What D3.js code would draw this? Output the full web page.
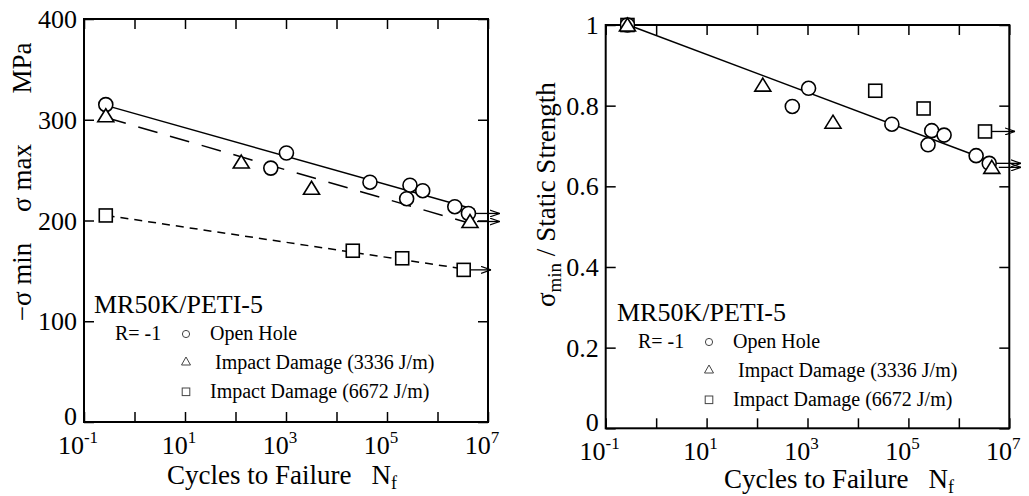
<!DOCTYPE html>
<html>
<head>
<meta charset="utf-8">
<script src="https://cdn.jsdelivr.net/npm/d3@7"></script>
<style>
  body { margin: 0; background: #fff; }
  text { font-family: "Liberation Serif", "Times New Roman", serif; fill: #000; }
</style>
</head>
<body>
<div id="chart_div"></div>
<script>
// ---- data ----
const decades = [0.1, 1, 10, 100, 1e3, 1e4, 1e5, 1e6, 1e7];
const labelExps = [-1, 1, 3, 5, 7];

// left panel: stress (MPa)
const left_open_n = [0.27, 500, 1020, 4.6e4, 2.85e5, 5.1e5, 2.45e5, 2.2e6, 4.1e6];
const left_open_v = [315, 252, 267, 238, 235, 229.6, 221.6, 213.7, 207];
const left_imp1_n = [0.27, 130, 3.2e3, 4.4e6];
const left_imp1_v = [304, 258, 232, 199];
const left_imp2_n = [0.27, 2.1e4, 2.0e5, 3.3e6];
const left_imp2_v = [205, 170, 162.5, 151];
const left_fit_open = [[0.28, 314], [5.5e6, 211]];
const left_fit_imp1 = [[0.28, 302], [4.5e6, 197]];
const left_fit_imp2 = [[0.28, 205], [3.3e6, 152]];
const left_runouts = [[4.1e6, 207, 1.7e7], [4.4e6, 199, 1.7e7], [3.3e6, 151, 1.15e7]];
const left_yticks = [0, 100, 200, 300, 400];

// right panel: normalised strength
const right_open_n = [0.27, 500, 1050, 4.7e4, 2.9e5, 5.1e5, 2.45e5, 2.2e6, 4.0e6];
const right_open_v = [1.0, 0.798, 0.843, 0.754, 0.738, 0.727, 0.703, 0.676, 0.657];
const right_imp1_n = [0.27, 130, 3.2e3, 4.5e6];
const right_imp1_v = [1.0, 0.851, 0.759, 0.647];
const right_imp2_n = [0.27, 2.2e4, 2.0e5, 3.3e6];
const right_imp2_v = [1.0, 0.837, 0.793, 0.736];
const right_fit = [[0.28, 1.0], [4.3e6, 0.662]];
const right_runouts = [[4.0e6, 0.657, 1.7e7], [4.5e6, 0.647, 1.7e7], [3.3e6, 0.736, 1.3e7]];
const right_yticks = [0, 0.2, 0.4, 0.6, 0.8, 1];

const legend_labels = ["Open Hole", " Impact Damage (3336 J/m)", "Impact Damage (6672 J/m)"];

const svg = d3.select("#chart_div").append("svg")
    .attr("width", 1029).attr("height", 496);

svg.append("defs").append("marker")
    .attr("id", "arrowhead")
    .attr("viewBox", "0 0 10 8")
    .attr("refX", 10).attr("refY", 4)
    .attr("markerWidth", 10).attr("markerHeight", 8)
    .attr("markerUnits", "userSpaceOnUse")
    .attr("orient", "auto")
  .append("path")
    .attr("d", "M0,0.5 L10,4 L0,7.5")
    .attr("fill", "none").attr("stroke", "#000").attr("stroke-width", 1.2);

function zip(ns, vs) { return ns.map((n, i) => [n, vs[i]]); }

function trianglePath(cx, cy) {
  return `M${cx},${cy - 7} L${cx + 8},${cy + 6} L${cx - 8},${cy + 6} Z`;
}

function drawPanel(p) {
  const g = svg.append("g");
  const x = d3.scaleLog().domain([0.1, 1e7]).range([p.left, p.right]);
  const y = d3.scaleLinear().domain(p.ydomain).range([p.bottom, p.top]);

  // ticks (inward)
  const tickStyle = sel => {
    sel.select(".domain").remove();
    sel.selectAll(".tick line").attr("stroke", "#000").attr("stroke-width", 1.5);
    sel.selectAll(".tick text").remove();
  };
  g.append("g").attr("transform", `translate(0,${p.bottom})`)
    .call(d3.axisBottom(x).tickValues(decades).tickSize(-10)).call(tickStyle);
  g.append("g").attr("transform", `translate(0,${p.top})`)
    .call(d3.axisTop(x).tickValues(decades).tickSize(-10)).call(tickStyle);
  g.append("g").attr("transform", `translate(${p.left},0)`)
    .call(d3.axisLeft(y).tickValues(p.yticks).tickSize(-10)).call(tickStyle);
  g.append("g").attr("transform", `translate(${p.right},0)`)
    .call(d3.axisRight(y).tickValues(p.yticks).tickSize(-10)).call(tickStyle);

  // frame
  g.append("rect")
    .attr("x", p.left).attr("y", p.top)
    .attr("width", p.right - p.left).attr("height", p.bottom - p.top)
    .attr("fill", "none").attr("stroke", "#000").attr("stroke-width", 2);

  // y tick labels
  g.selectAll(".ylab").data(p.yticks).join("text")
    .attr("x", p.left - 7).attr("y", d => y(d) + (d === 0 ? 3 : 9))
    .attr("text-anchor", "end").attr("font-size", 26)
    .text(p.yfmt);

  // x tick labels 10^n
  const xl = g.selectAll(".xlab").data(labelExps).join("text")
    .attr("x", d => x(Math.pow(10, d)) - 6).attr("y", p.bottom + 32)
    .attr("text-anchor", "middle").attr("font-size", 26);
  xl.append("tspan").text("10");
  xl.append("tspan").attr("font-size", 17).attr("dy", -11).text(d => d);

  // x axis title
  const xt = g.append("text")
    .attr("x", p.xtitleX).attr("y", p.xtitleY)
    .attr("font-size", 27);
  xt.append("tspan").text("Cycles to Failure");
  xt.append("tspan").attr("dx", 20).text("N");
  xt.append("tspan").attr("font-size", 18).attr("dy", 5).text("f");

  // fit lines
  const line = d3.line().x(d => x(d[0])).y(d => y(d[1]));
  p.fits.forEach(f => {
    g.append("path").datum(f.data)
      .attr("d", line)
      .attr("fill", "none").attr("stroke", "#000").attr("stroke-width", 1.5)
      .attr("stroke-dasharray", f.dash);
  });

  // run-out arrows
  g.selectAll(".runout").data(p.runouts).join("line")
    .attr("x1", d => x(d[0]) + 7).attr("x2", d => x(d[2]))
    .attr("y1", d => y(d[1])).attr("y2", d => y(d[1]))
    .attr("stroke", "#000").attr("stroke-width", 1.3)
    .attr("marker-end", "url(#arrowhead)");

  // points
  g.selectAll(".sq").data(p.squares).join("rect")
    .attr("x", d => x(d[0]) - 6.5).attr("y", d => y(d[1]) - 6.5)
    .attr("width", 13).attr("height", 13)
    .attr("fill", "#fff").attr("stroke", "#000").attr("stroke-width", 1.6);
  g.selectAll(".ci").data(p.circles).join("circle")
    .attr("cx", d => x(d[0])).attr("cy", d => y(d[1])).attr("r", 7)
    .attr("fill", "#fff").attr("stroke", "#000").attr("stroke-width", 1.6);
  g.selectAll(".tr").data(p.triangles).join("path")
    .attr("d", d => trianglePath(x(d[0]), y(d[1])))
    .attr("fill", "#fff").attr("stroke", "#000").attr("stroke-width", 1.6);

  // legend
  const L = p.legend;
  g.append("text").attr("x", L.x).attr("y", L.y).attr("font-size", 26).text("MR50K/PETI-5");
  g.append("text").attr("x", L.x + 21).attr("y", L.y + 27).attr("font-size", 20).text("R= -1");
  const sx = L.x + 92;
  const rowY = [L.y + 27, L.y + 56, L.y + 85];
  g.append("circle").attr("cx", sx).attr("cy", rowY[0] - 6).attr("r", 3.6)
    .attr("fill", "none").attr("stroke", "#444").attr("stroke-width", 1);
  g.append("path")
    .attr("d", `M${sx},${rowY[1] - 12} L${sx + 4.5},${rowY[1] - 4} L${sx - 4.5},${rowY[1] - 4} Z`)
    .attr("fill", "none").attr("stroke", "#444").attr("stroke-width", 1);
  g.append("rect").attr("x", sx - 3.8).attr("y", rowY[2] - 10).attr("width", 7.6).attr("height", 7.6)
    .attr("fill", "none").attr("stroke", "#444").attr("stroke-width", 1);
  g.selectAll(".legtxt").data(legend_labels).join("text")
    .attr("x", sx + 24).attr("y", (d, i) => rowY[i])
    .attr("font-size", 20)
    .attr("xml:space", "preserve").style("white-space", "pre")
    .text(d => d);

  return g;
}

// left panel
const gl = drawPanel({
  left: 84, right: 488, top: 19, bottom: 422,
  ydomain: [0, 400], yticks: left_yticks, yfmt: d => d,
  xtitleX: 167, xtitleY: 484,
  fits: [
    {data: left_fit_open, dash: null},
    {data: left_fit_imp1, dash: "20,13"},
    {data: left_fit_imp2, dash: "8,6"}
  ],
  runouts: left_runouts,
  circles: zip(left_open_n, left_open_v),
  triangles: zip(left_imp1_n, left_imp1_v),
  squares: zip(left_imp2_n, left_imp2_v),
  legend: {x: 94, y: 313}
});

// left y title pieces
[["MPa", 68], ["σ max", 178], ["−σ min", 282]].forEach(d => {
  svg.append("text")
    .attr("transform", `translate(31,${d[1]}) rotate(-90)`)
    .attr("text-anchor", "middle").attr("font-size", 27)
    .style("white-space", "pre")
    .text(d[0]);
});

// right panel
const gr = drawPanel({
  left: 605.7, right: 1009.3, top: 25, bottom: 428.3,
  ydomain: [0, 1], yticks: right_yticks, yfmt: d => (d === 0 || d === 1) ? d : d.toFixed(1),
  xtitleX: 724, xtitleY: 488,
  fits: [{data: right_fit, dash: null}],
  runouts: right_runouts,
  circles: zip(right_open_n, right_open_v),
  triangles: zip(right_imp1_n, right_imp1_v),
  squares: zip(right_imp2_n, right_imp2_v),
  legend: {x: 617, y: 321}
});

// right y title
const ry = svg.append("text")
  .attr("transform", "translate(555,307) rotate(-90)")
  .attr("font-size", 27);
ry.append("tspan").text("σ");
ry.append("tspan").attr("font-size", 19).attr("dy", 6).text("min");
ry.append("tspan").attr("dy", -6).text(" / Static Strength");
</script>
</body>
</html>
